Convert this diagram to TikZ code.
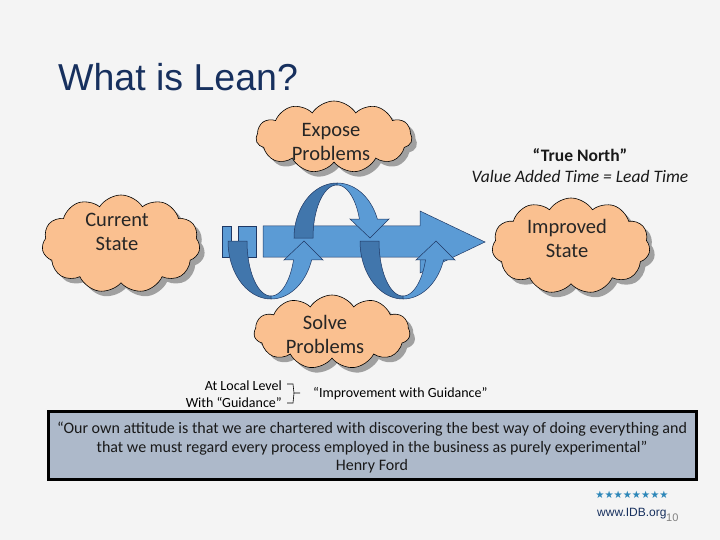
\documentclass[tikz,border=0pt]{standalone}
\usepackage{fontspec}
\setmainfont{Carlito}
\newfontfamily\arialf{Liberation Sans}
\newfontfamily\dejavuf{DejaVu Sans}
\usetikzlibrary{shapes.symbols,shadows}
\definecolor{bg}{HTML}{F4F4F4}
\definecolor{cloudfill}{HTML}{FAC090}
\definecolor{lightblue}{HTML}{5B9BD5}
\definecolor{darkblue}{HTML}{4176AC}
\definecolor{edgeblue}{HTML}{1F3864}
\definecolor{titlecol}{HTML}{17305E}
\definecolor{quotefill}{HTML}{ADB9CA}
\definecolor{starcol}{HTML}{2C86B8}
\newcommand\lowloop[1]{%
  \filldraw[darkband] plot[domain=180:90,samples=40] ({#1+43*cos(\x)},{241+58*sin(\x)}) -- plot[domain=90:180,samples=40] ({#1+24*cos(\x)},{241+55*sin(\x)}) -- cycle;
  \filldraw[lightband] plot[domain=90:19,samples=40] ({#1+43*cos(\x)},{241+58*sin(\x)}) -- ({#1+52},260) -- ({#1+33},241) -- ({#1+13},260) -- plot[domain=20:90,samples=40] ({#1+24*cos(\x)},{241+55*sin(\x)}) -- cycle;
}
\newcommand\highloop[1]{%
  \filldraw[darkband] plot[domain=180:270,samples=40] ({#1+43*cos(\x)},{238+55*sin(\x)}) -- plot[domain=270:180,samples=40] ({#1+24*cos(\x)},{238+53*sin(\x)}) -- cycle;
  \filldraw[lightband] plot[domain=270:340,samples=40] ({#1+43*cos(\x)},{238+55*sin(\x)}) -- ({#1+52},219) -- ({#1+33},238) -- ({#1+13},219) -- plot[domain=339:270,samples=40] ({#1+24*cos(\x)},{238+53*sin(\x)}) -- cycle;
}
\begin{document}
\begin{tikzpicture}[x=1pt,y=-1pt,
  cloudbox/.style={cloud, cloud puffs=11, cloud puff arc=115, cloud ignores aspect, draw=black, line width=0.6pt, fill=cloudfill,
     drop shadow={shadow xshift=5pt, shadow yshift=-5pt, fill=black!45, opacity=0.8}},
  cloudtext/.style={align=center, text=black!85, font=\fontsize{20.5}{24}\selectfont},
  darkband/.style={fill=darkblue, draw=edgeblue, line width=0.5pt},
  lightband/.style={fill=lightblue, draw=edgeblue, line width=0.5pt},
  bluebox/.style={fill=lightblue, draw=edgeblue, line width=0.5pt}]
\fill[bg] (0,0) rectangle (720,540);
\useasboundingbox (0,0) rectangle (720,540);
% title
\node[anchor=base west, inner sep=0, text=titlecol, font=\arialf\fontsize{37.5}{42}\selectfont] (title) at (58,91) {What is Lean?};
% clouds
\node[cloudbox, minimum width=156, minimum height=72] (expose) at (334,137) {};
\node[cloudtext] (exposet) at (331,142) {Expose\\Problems};
\node[cloudbox, minimum width=158, minimum height=98] (current) at (121,244) {};
\node[cloudtext] (currentt) at (117,232) {Current\\State};
\node[cloudbox, minimum width=158, minimum height=96] (improved) at (571,246) {};
\node[cloudtext] (improvedt) at (567,238) {Improved\\State};
\node[cloudbox, minimum width=156, minimum height=74] (solve) at (332,332) {};
\node[cloudtext] (solvet) at (325,334) {Solve\\Problems};
% true north
\node[font=\bfseries\fontsize{17.5}{20}\selectfont, text=black!90] (north) at (580,155) {“True North”};
\node[font=\itshape\fontsize{17.5}{20}\selectfont, text=black!90] (vat) at (580,176) {Value Added Time = Lead Time};
% main arrow
\filldraw[bluebox] (222,226) rectangle (231,257);
\filldraw[bluebox] (238,226) rectangle (256,257);
\filldraw[bluebox] (263,226) -- (420,226) -- (420,211) -- (485,242) -- (420,273) -- (420,257) -- (263,257) -- cycle;
% loops
\lowloop{271}
\highloop{337}
\lowloop{403}
% guidance
\node[anchor=base east, inner sep=0, font=\fontsize{14}{16}\selectfont] (local) at (282,390) {At Local Level};
\node[anchor=base east, inner sep=0, font=\fontsize{14}{16}\selectfont] (with) at (282,407) {With “Guidance”};
\draw[line width=0.6pt] (287,384) -- (293,384) -- (294,393) -- (300,393);
\draw[line width=0.6pt] (294,393) -- (293,403) -- (287,403);
\node[anchor=base west, inner sep=0, font=\fontsize{14}{16}\selectfont] (impr) at (313,397) {“Improvement with Guidance”};
% quote
\node[draw=black, line width=3pt, fill=quotefill, minimum width=648, minimum height=68, inner sep=0] (quote) at (372.5,445.5) {};
\node[align=center, font=\fontsize{16}{18.5}\selectfont, text=black!90] (quotet) at (372,448) {“Our own attitude is that we are chartered with discovering the best way of doing everything and\\that we must regard every process employed in the business as purely experimental”\\Henry Ford};
% footer
\node[anchor=base, inner sep=0, text=starcol, font=\dejavuf\fontsize{10.2}{12}\selectfont] (stars) at (632,498) {★★★★★★★★};
\node[anchor=base west, inner sep=0, text=titlecol, font=\arialf\fontsize{12}{14}\selectfont] (www) at (597,516) {www.IDB.org};
\node[anchor=base west, inner sep=0, text=black!50, font=\arialf\fontsize{11}{13}\selectfont] (pnum) at (666,521) {10};
\end{tikzpicture}
\end{document}
